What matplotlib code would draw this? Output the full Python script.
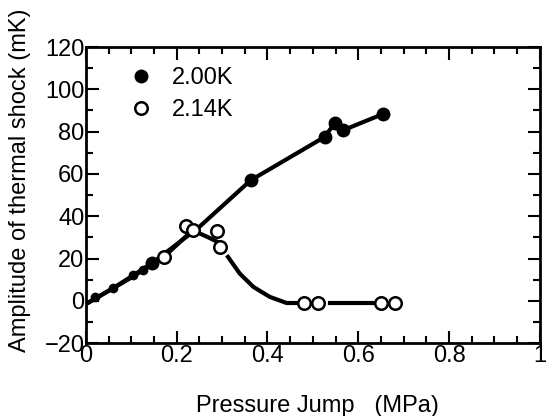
import matplotlib.pyplot as plt
import numpy as np
from matplotlib.ticker import MultipleLocator

# measured points
x_200 = [0.145, 0.363, 0.526, 0.548, 0.567, 0.654]
y_200 = [17.7, 57.0, 77.5, 84.0, 80.7, 88.3]
# small, mostly hidden points near the origin
x_200_small = [0.02, 0.06, 0.104, 0.125]
y_200_small = [2.0, 6.0, 12.0, 14.5]
x_214 = [0.172, 0.220, 0.235, 0.289, 0.295, 0.480, 0.512, 0.651, 0.680]
y_214 = [20.8, 35.3, 33.4, 33.0, 25.5, -1.0, -1.0, -1.0, -1.0]

# guide lines as drawn in the figure
line_200_x = [0.0, 0.06, 0.145, 0.25, 0.363, 0.526, 0.548, 0.567, 0.654]
line_200_y = [-1.5, 6.0, 17.7, 35.0, 57.0, 77.5, 84.0, 80.7, 88.3]
line_214a_x = [0.0, 0.1, 0.172, 0.235, 0.27, 0.289]
line_214a_y = [-1.5, 11.0, 20.8, 33.4, 30.0, 28.0]
line_214b_x = [0.313, 0.339, 0.369, 0.405, 0.442, 0.48]
line_214b_y = [20.8, 12.9, 6.6, 1.9, -1.0, -1.0]
line_214c_x = [0.537, 0.651]
line_214c_y = [-1.0, -1.0]


def main():
    plt.rcParams['font.family'] = ['Liberation Sans', 'DejaVu Sans']
    fig = plt.figure(figsize=(5.47, 4.16), dpi=100)
    ax = fig.add_axes([0.157, 0.175, 0.83, 0.712])

    ax.plot(line_200_x, line_200_y, color='black', lw=3, zorder=2)
    ax.plot(line_214a_x, line_214a_y, color='black', lw=3, zorder=2)
    ax.plot(line_214b_x, line_214b_y, color='black', lw=3, zorder=2)
    ax.plot(line_214c_x, line_214c_y, color='black', lw=3, zorder=2)

    ax.plot(x_200_small, y_200_small, 'o', ms=6, mfc='black', mec='black',
            zorder=3)
    ax.plot(x_200, y_200, 'o', ms=9, mfc='black', mec='black',
            label='2.00K', zorder=3)
    ax.plot(x_214, y_214, 'o', ms=9, mfc='white', mec='black', mew=1.8,
            label='2.14K', zorder=4)

    ax.set_xlim(0, 1)
    ax.set_ylim(-20, 120)
    ax.xaxis.set_major_locator(MultipleLocator(0.2))
    ax.xaxis.set_minor_locator(MultipleLocator(0.05))
    ax.yaxis.set_major_locator(MultipleLocator(20))
    ax.yaxis.set_minor_locator(MultipleLocator(10))
    ax.set_xticks([0, 0.2, 0.4, 0.6, 0.8, 1.0])
    ax.set_xticklabels(['0', '0.2', '0.4', '0.6', '0.8', '1'])

    ax.tick_params(which='both', direction='in', top=True, right=True,
                   labelsize=17, width=1.5)
    ax.tick_params(axis='x', pad=1)
    ax.tick_params(axis='y', pad=1)
    ax.tick_params(which='major', length=9)
    ax.tick_params(which='minor', length=5)
    for s in ax.spines.values():
        s.set_linewidth(2)

    ax.set_xlabel('Pressure Jump   (MPa)', fontsize=17)
    ax.xaxis.set_label_coords(0.51, -0.175)
    ax.set_ylabel('Amplitude of thermal shock (mK)', fontsize=17)
    ax.yaxis.set_label_coords(-0.12, 0.55)

    ax.legend(loc='upper left', frameon=False, fontsize=17,
              bbox_to_anchor=(0.06, 0.965), handletextpad=0.5,
              labelspacing=0.45, borderaxespad=0, handlelength=1.6)

    fig.savefig('out.png', dpi=100)


if __name__ == "__main__":
    main()
